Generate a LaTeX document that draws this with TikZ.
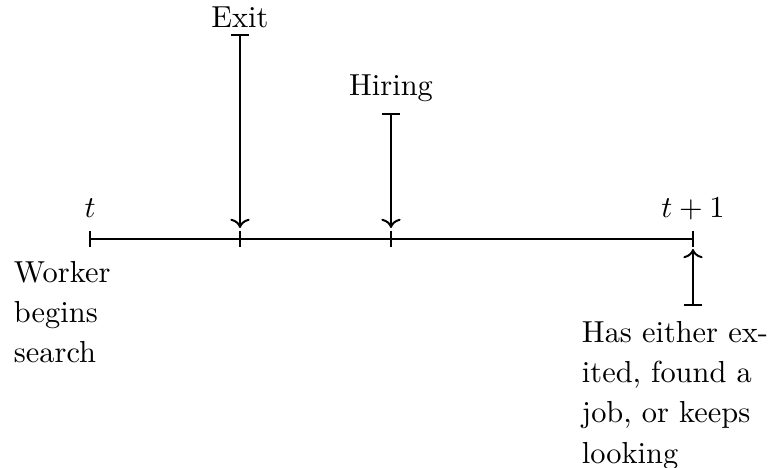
\documentclass[tikz,border=0pt]{standalone}
\usetikzlibrary{calc,arrows.meta}
\newcommand{\jline}[1]{\makebox[57.5pt][s]{#1}}
\begin{document}
\begin{tikzpicture}[x=0.329pt,y=-0.329pt,line width=0.65pt,
  lbl/.style={anchor=base,inner sep=0pt},
  para/.style={anchor=north west,inner sep=0pt,text width=60pt,align=left,
    font=\fontsize{10}{13.3}\selectfont},
  barrow/.style={{Bar[width=5.6pt]}->}]
\useasboundingbox (0,0) rectangle (772,468);
% timeline points
\coordinate (t0) at (90,239);
\coordinate (ex) at (240,239);
\coordinate (hi) at (391,239);
\coordinate (t1) at (693,239);
% arrow ends
\coordinate (exTop) at (240,34);
\coordinate (exEnd) at (240,228);
\coordinate (hiTop) at (391,113);
\coordinate (hiEnd) at (391,228);
\coordinate (lkBot) at (693,306);
\coordinate (lkEnd) at (693,249);
% axis
\draw (t0) -- (t1);
\foreach \p in {t0,ex,hi,t1}
  \draw ($(\p)+(0,-8)$) -- ($(\p)+(0,8)$);
% arrows
\draw[barrow] (exTop) -- (exEnd);
\draw[barrow] (hiTop) -- (hiEnd);
\draw[barrow] (lkBot) -- (lkEnd);
% labels
\node[lbl] (lexit) at (240,28) {Exit};
\node[lbl] (lhire) at (391,96) {Hiring};
\node[lbl] (lt0) at (90,218) {$t$};
\node[lbl] (lt1) at (693,218) {$t+1$};
\node[para] (lw) at (13,260) {Worker\\begins\\search};
\node[para] (lh) at (581,320) {\jline{Has either ex-}\\\jline{ited, found a}\\\jline{job, or keeps}\\looking};
\end{tikzpicture}
\end{document}
